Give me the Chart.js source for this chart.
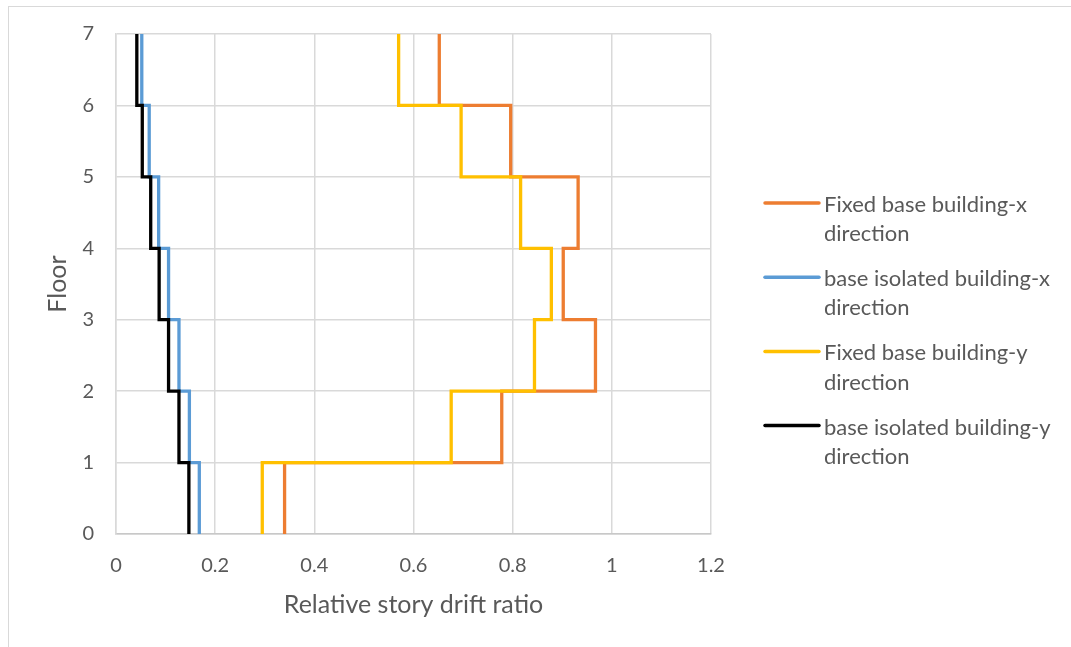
<!DOCTYPE html>
<html>
<head>
<meta charset="utf-8">
<script src="https://cdn.jsdelivr.net/npm/chart.js@4.4.1/dist/chart.umd.min.js"></script>
<style>
  html, body { margin: 0; padding: 0; background: #ffffff; }
  #wrap { position: relative; width: 1071px; height: 647px; }
</style>
</head>
<body>
<div id="wrap"><canvas id="chart" width="1071" height="647"></canvas></div>
<script>
// Story drift ratio per storey: entry i holds the value between floor i and floor i+1
const floors = [0, 1, 2, 3, 4, 5, 6, 7];
const fixedBaseX    = [0.340, 0.778, 0.967, 0.902, 0.932, 0.796, 0.652];
const isolatedBaseX = [0.168, 0.148, 0.127, 0.106, 0.086, 0.067, 0.052];
const fixedBaseY    = [0.295, 0.676, 0.844, 0.878, 0.816, 0.696, 0.570];
const isolatedBaseY = [0.147, 0.127, 0.106, 0.087, 0.070, 0.053, 0.042];

const seriesNames = [
  ['Fixed base building-x', 'direction'],
  ['base isolated building-x', 'direction'],
  ['Fixed base building-y', 'direction'],
  ['base isolated building-y', 'direction']
];
const xTickLabels = ['0', '0.2', '0.4', '0.6', '0.8', '1', '1.2'];
const yTickLabels = ['0', '1', '2', '3', '4', '5', '6', '7'];
const xAxisTitle = 'Relative story drift ratio';
const yAxisTitle = 'Floor';

const FONT = "Lato, 'Open Sans', sans-serif";
const TEXT = '#595959';
const GRID = '#d9d9d9';

// Turn per-storey values into a vertical step profile (x = drift, y = floor)
function stepProfile(values) {
  const pts = [];
  values.forEach((v, i) => {
    pts.push({ x: v, y: floors[i] });
    pts.push({ x: v, y: floors[i + 1] });
  });
  return pts;
}

function series(idx, values, color, order) {
  return {
    label: seriesNames[idx].join(' '),
    legendLines: seriesNames[idx],
    data: stepProfile(values),
    borderColor: color,
    backgroundColor: color,
    borderWidth: 3.3,
    pointRadius: 0,
    pointHoverRadius: 0,
    showLine: true,
    fill: false,
    tension: 0,
    borderJoinStyle: 'miter',
    borderCapStyle: 'butt',
    order: order
  };
}

// Frame around the whole chart object
const framePlugin = {
  id: 'frame',
  beforeDraw(chart) {
    const ctx = chart.ctx;
    ctx.save();
    ctx.strokeStyle = GRID;
    ctx.lineWidth = 1;
    ctx.strokeRect(8.5, 6.5, chart.width + 20, chart.height + 20);
    ctx.restore();
  }
};

// Legend on the right with two-line labels
const sideLegend = {
  id: 'sideLegend',
  afterDraw(chart) {
    const ctx = chart.ctx;
    const area = chart.chartArea;
    const x0 = area.right + 54;
    const lineLen = 54;
    const textX = x0 + lineLen + 5;
    const entryGap = 74.2;
    const rowGap = 29.2;
    const startY = area.top + 169;
    ctx.save();
    ctx.font = '22px ' + FONT;
    ctx.textBaseline = 'middle';
    ctx.textAlign = 'left';
    chart.data.datasets.forEach((ds, i) => {
      const y = startY + i * entryGap;
      ctx.strokeStyle = ds.borderColor;
      ctx.lineWidth = 3.5;
      ctx.lineCap = 'round';
      ctx.beginPath();
      ctx.moveTo(x0, y);
      ctx.lineTo(x0 + lineLen, y);
      ctx.stroke();
      ctx.fillStyle = TEXT;
      ds.legendLines.forEach((t, r) => ctx.fillText(t, textX, y + 2 + r * rowGap));
    });
    ctx.restore();
  }
};

new Chart(document.getElementById('chart'), {
  type: 'scatter',
  data: {
    datasets: [
      series(0, fixedBaseX, '#ED7D31', 4),
      series(1, isolatedBaseX, '#5B9BD5', 3),
      series(2, fixedBaseY, '#FFC000', 2),
      series(3, isolatedBaseY, '#000000', 1)
    ]
  },
  options: {
    responsive: false,
    animation: false,
    events: [],
    layout: { padding: { left: 0, right: 360, top: 26, bottom: 0 } },
    plugins: {
      legend: { display: false },
      tooltip: { enabled: false },
      title: { display: false }
    },
    scales: {
      x: {
        type: 'linear',
        min: 0,
        max: 1.2,
        afterFit(scale) { scale.height = 113; },
        ticks: {
          stepSize: 0.2,
          color: TEXT,
          font: { family: FONT, size: 20 },
          padding: 20,
          callback: (v, i) => xTickLabels[i]
        },
        grid: { color: GRID, lineWidth: 1.5, drawTicks: false },
        border: { color: '#c8c8c8', width: 1.5 },
        title: {
          display: true,
          text: xAxisTitle,
          color: TEXT,
          font: { family: FONT, size: 25 },
          padding: { top: 8, bottom: 27 }
        }
      },
      y: {
        type: 'linear',
        min: 0,
        max: 7,
        afterFit(scale) { scale.width = 116; },
        ticks: {
          stepSize: 1,
          color: TEXT,
          font: { family: FONT, size: 20 },
          padding: 22,
          callback: (v, i) => yTickLabels[i]
        },
        grid: { color: GRID, lineWidth: 1.5, drawTicks: false },
        border: { color: GRID, width: 1.5 },
        title: {
          display: true,
          text: yAxisTitle,
          color: TEXT,
          font: { family: FONT, size: 25 },
          padding: { top: 43, bottom: 6 }
        }
      }
    }
  },
  plugins: [framePlugin, sideLegend]
});
</script>
</body>
</html>
